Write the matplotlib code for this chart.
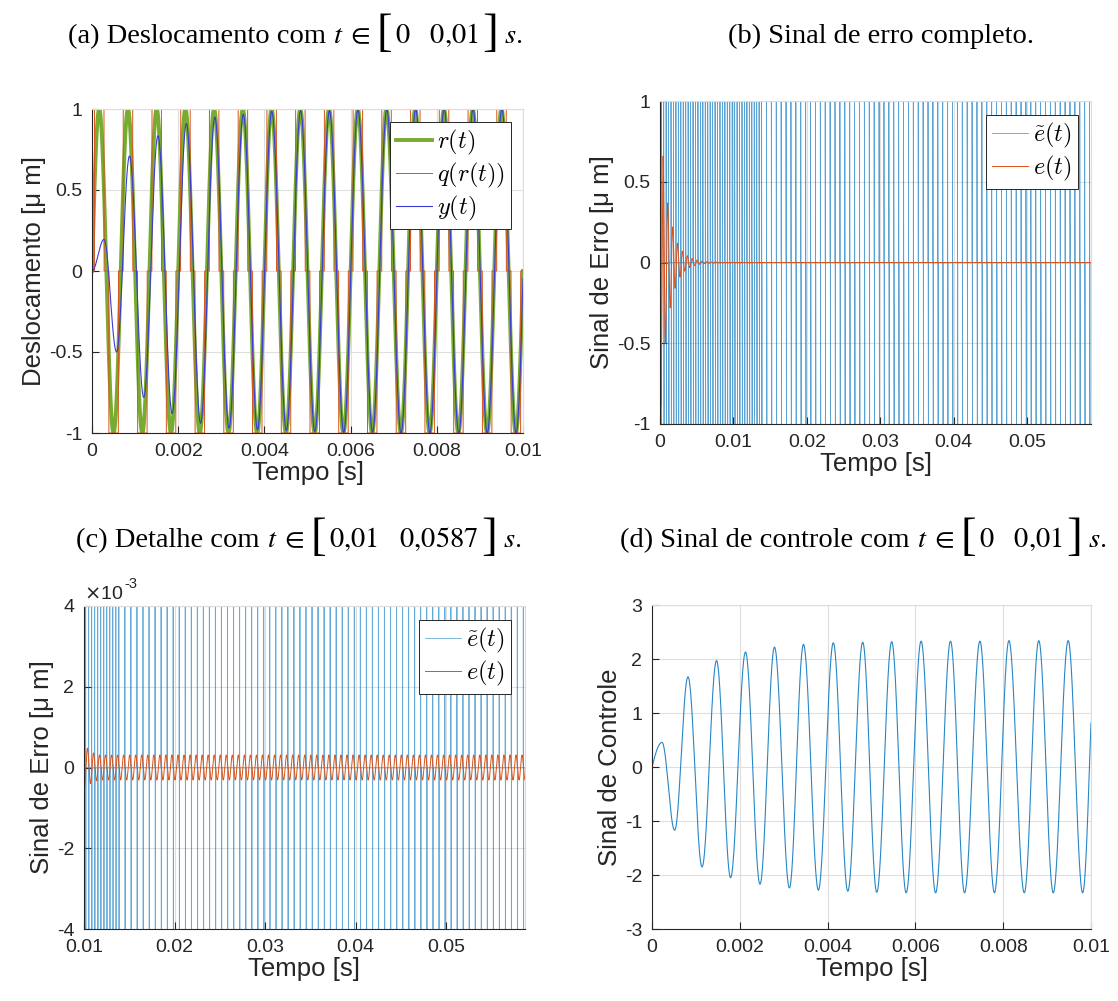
import numpy as np
import matplotlib
matplotlib.use("Agg")
import matplotlib.pyplot as plt
from matplotlib.ticker import FuncFormatter, FixedLocator
from matplotlib.font_manager import FontProperties

# ---------------- data ----------------
# reference r(t): alternating extrema of the sinusoidal reference [s], [um]
r_ext_t = [0.000167, 0.000500, 0.000833, 0.001167, 0.001500, 0.001833, 0.002167,
           0.002500, 0.002833, 0.003167, 0.003500, 0.003833, 0.004167, 0.004500,
           0.004833, 0.005167, 0.005500, 0.005833, 0.006167, 0.006500, 0.006833,
           0.007167, 0.007500, 0.007833, 0.008167, 0.008500, 0.008833, 0.009167,
           0.009500, 0.009833, 0.010167]
r_ext_v = [1, -1, 1, -1, 1, -1, 1, -1, 1, -1, 1, -1, 1, -1, 1, -1,
           1, -1, 1, -1, 1, -1, 1, -1, 1, -1, 1, -1, 1, -1, 1]

# quantiser output levels for q(r(t))
q_levels = [-1.0, 0.0, 1.0]

# plant output y(t): extrema of the response
y_ext_t = [0.00028, 0.00057, 0.00087, 0.00120, 0.00153, 0.00186, 0.00219, 0.00252,
           0.00285, 0.00318, 0.00351, 0.00384, 0.00417, 0.00451, 0.00484, 0.00517,
           0.00551, 0.00584, 0.00617, 0.00651, 0.00684, 0.00717, 0.00751, 0.00784,
           0.00817, 0.00851, 0.00884, 0.00917, 0.00951, 0.00984, 0.01017]
y_ext_v = [0.195, -0.50, 0.71, -0.78, 0.835, -0.88, 0.91, -0.94, 0.95, -0.97,
           0.967, -0.98, 0.985, -0.985, 0.99, -0.99, 0.99, -0.995, 0.995, -0.995,
           0.995, -1.0, 1.0, -1.0, 1.0, -1.0, 1.0, -1.0, 1.0, -1.0, 1.0]

# control signal u(t): extrema
u_ext_t = [0.000228, 0.000516, 0.00082, 0.00114, 0.00147, 0.00179, 0.00213, 0.00246,
           0.00279, 0.00313, 0.00345, 0.00379, 0.00413, 0.00446, 0.00480, 0.00512,
           0.00546, 0.00579, 0.00613, 0.00646, 0.00680, 0.00712, 0.00747, 0.00780,
           0.00813, 0.00848, 0.00881, 0.00914, 0.00948, 0.00981, 0.01012]
u_ext_v = [0.457, -1.17, 1.67, -1.85, 1.97, -2.05, 2.13, -2.17, 2.22, -2.24, 2.27,
           -2.28, 2.30, -2.30, 2.31, -2.32, 2.32, -2.33, 2.33, -2.33, 2.33, -2.33,
           2.33, -2.33, 2.34, -2.33, 2.34, -2.33, 2.34, -2.33, 2.34]

# tracking error e(t): transient extrema, then a steady ripple
e_tr_t = [0.00012, 0.00042, 0.00072, 0.00105, 0.00138, 0.00172, 0.00205, 0.00238,
          0.00272, 0.00305, 0.00338, 0.00372, 0.00405, 0.00438, 0.00472, 0.00505,
          0.00538, 0.00572, 0.00605, 0.00638, 0.00672, 0.00705, 0.00738, 0.00772,
          0.00805, 0.00838, 0.00872, 0.00905, 0.00938, 0.00972, 0.01005, 0.01038,
          0.01072, 0.01105, 0.01138]
e_tr_v = [-0.89, 0.66, -0.50, 0.37, -0.28, 0.22, -0.16, 0.12, -0.090, 0.070,
          -0.054, 0.042, -0.032, 0.025, -0.019, 0.015, -0.0115, 0.0090, -0.0070,
          0.0055, -0.0043, 0.0034, -0.0027, 0.0021, -0.0017, 0.0013, -0.0010,
          0.0008, -0.00065, 0.00055, -0.00050, 0.00048, -0.00040, 0.00036, -0.00033]
e_ss_amp = 3.1e-4            # steady ripple amplitude
e_half_period = 3.333e-4     # s

# quantised error ẽ(t): one +1/-1 pulse pair per event
ref_period = 6.667e-4        # s
pulse_phase_early = [0.25, 0.75]
pulse_phase_late = [0.75]
pulse_switch = 0.0137        # s, pulses become once-per-cycle after this
pulse_width = 5e-5           # s

t_short = 0.01
t_long = 0.0587

# ---------------- signal construction ----------------
def arcs(t, tk, vk, lead="cos"):
    """Smooth curve through alternating extrema (tk, vk), starting at (0, 0)."""
    tk = np.r_[0.0, tk]
    vk = np.r_[0.0, vk]
    i = np.clip(np.searchsorted(tk, t, side="right") - 1, 0, len(tk) - 2)
    s = np.clip((t - tk[i]) / (tk[i + 1] - tk[i]), 0.0, 1.0)
    out = 0.5 * (vk[i] + vk[i + 1]) + 0.5 * (vk[i] - vk[i + 1]) * np.cos(np.pi * s)
    if lead == "sine":
        m = i == 0
        out[m] = vk[1] * np.sin(0.5 * np.pi * s[m])
    return out

t_a = np.linspace(0, t_short, 20001)
r = arcs(t_a, r_ext_t, r_ext_v, lead="sine")
lv = np.asarray(q_levels)
q = lv[np.argmin(np.abs(r[:, None] - lv[None, :]), axis=1)]
y = arcs(t_a, y_ext_t, y_ext_v, lead="cos")
u = arcs(t_a, u_ext_t, u_ext_v, lead="sine")

# error: transient followed by the steady ripple
n_ss = int(np.ceil((t_long - e_tr_t[-1]) / e_half_period)) + 1
ss_t = e_tr_t[-1] + e_half_period * np.arange(1, n_ss + 1)
ss_v = e_ss_amp * np.where(np.arange(1, n_ss + 1) % 2 == 1, 1.0, -1.0) * -np.sign(e_tr_v[-1])
e_t_all = np.r_[e_tr_t, ss_t]
e_v_all = np.r_[e_tr_v, ss_v]
t_b = np.linspace(0, t_long, 120001)
e = arcs(t_b, e_t_all, e_v_all, lead="cos")

# pulse train of ẽ(t)
pulse_t = []
k = 0
while k * ref_period < t_long:
    phases = pulse_phase_early if k * ref_period < pulse_switch else pulse_phase_late
    for ph in phases:
        tp = (k + ph) * ref_period
        if tp < t_long:
            pulse_t.append(tp)
    k += 1
et_x = [0.0]
et_y = [0.0]
for tp in pulse_t:
    et_x += [tp, tp, tp + pulse_width, tp + pulse_width]
    et_y += [0.0, 1.0, -1.0, 0.0]
et_x.append(t_long)
et_y.append(0.0)

# ---------------- figure ----------------
plt.rcParams.update({
    "font.family": "Liberation Sans",
    "axes.unicode_minus": False,
    "mathtext.fontset": "dejavusans",
})
W, H = 1118, 1001
fig = plt.figure(figsize=(W / 100, H / 100), dpi=100)

def add_axes(l, t, rr, b):
    return fig.add_axes([l / W, 1 - b / H, (rr - l) / W, (b - t) / H])

ax_a = add_axes(92, 109, 523, 433)
ax_b = add_axes(660, 101, 1091, 424)
ax_c = add_axes(84, 606, 525, 929)
ax_d = add_axes(652, 605, 1091, 929)

DARK = "#262626"
BLUE = "#0072BD"
ORANGE = "#D95319"
GREEN = "#77AC30"
LABEL_SIZE = 18.5

def style(ax):
    for side in ("top", "right"):
        ax.spines[side].set_color("#dcdcdc")
        ax.spines[side].set_linewidth(0.8)
    for side in ("left", "bottom"):
        ax.spines[side].set_color(DARK)
        ax.spines[side].set_linewidth(0.8)
    ax.tick_params(direction="in", length=5, width=0.8, colors=DARK,
                   labelsize=14, top=False, right=False, pad=7)
    ax.grid(True, color="#dfdfdf", linewidth=0.8)
    ax.set_axisbelow(True)

fmt_g = FuncFormatter(lambda v, _: f"{v:g}")
leg_font = FontProperties(family="Liberation Serif", size=17.5, math_fontfamily="cm")

def legend(ax, dx, dy):
    w = ax.get_position().width * W
    h = ax.get_position().height * H
    lg = ax.legend(loc="upper right", bbox_to_anchor=(1 - dx / w, 1 - dy / h),
                   borderaxespad=0, prop=leg_font, fancybox=False, framealpha=1,
                   edgecolor=DARK, handlelength=1.5, handletextpad=0.2,
                   borderpad=0.25, labelspacing=0.15)
    lg.get_frame().set_linewidth(0.7)

# (a) displacement
ax = ax_a
style(ax)
ax.plot(t_a, r, color=GREEN, lw=2.8, label=r"$r(t)$")
ax.plot(t_a, q, color=ORANGE, lw=0.7, label=r"$q(r(t))$")
ax.plot(t_a, y, color="#3b3bd6", lw=0.8, label=r"$y(t)$")
ax.set_xlim(0, t_short)
ax.set_ylim(-1, 1)
ax.xaxis.set_major_locator(FixedLocator([0, 0.002, 0.004, 0.006, 0.008, 0.01]))
ax.yaxis.set_major_locator(FixedLocator([-1, -0.5, 0, 0.5, 1]))
ax.xaxis.set_major_formatter(fmt_g)
ax.yaxis.set_major_formatter(fmt_g)
ax.set_xlabel("Tempo [s]", fontsize=LABEL_SIZE, color=DARK, labelpad=1)
ax.set_ylabel("Deslocamento [μ m]", fontsize=LABEL_SIZE, color=DARK, labelpad=2)
legend(ax, 12, 13)

# (b) full error signal
ax = ax_b
style(ax)
ax.plot(et_x, et_y, color=BLUE, lw=0.6, alpha=0.65, label=r"$\tilde{e}(t)$")
ax.plot(t_b, e, color=ORANGE, lw=0.7, label=r"$e(t)$")
ax.set_xlim(0, t_long)
ax.set_ylim(-1, 1)
ax.xaxis.set_major_locator(FixedLocator([0, 0.01, 0.02, 0.03, 0.04, 0.05]))
ax.yaxis.set_major_locator(FixedLocator([-1, -0.5, 0, 0.5, 1]))
ax.xaxis.set_major_formatter(fmt_g)
ax.yaxis.set_major_formatter(fmt_g)
ax.set_xlabel("Tempo [s]", fontsize=LABEL_SIZE, color=DARK, labelpad=1)
ax.set_ylabel("Sinal de Erro [μ m]", fontsize=LABEL_SIZE, color=DARK, labelpad=2)
legend(ax, 13, 14)

# (c) error detail
ax = ax_c
style(ax)
ax.plot(et_x, et_y, color=BLUE, lw=0.6, alpha=0.6, label=r"$\tilde{e}(t)$")
ax.plot(t_b, e, color=ORANGE, lw=0.7, label=r"$e(t)$")
ax.set_xlim(t_short, t_long)
ax.set_ylim(-4e-3, 4e-3)
ax.xaxis.set_major_locator(FixedLocator([0.01, 0.02, 0.03, 0.04, 0.05]))
ax.yaxis.set_major_locator(FixedLocator([-4e-3, -2e-3, 0, 2e-3, 4e-3]))
ax.xaxis.set_major_formatter(fmt_g)
ax.yaxis.set_major_formatter(FuncFormatter(lambda v, _: f"{round(v * 1e3, 6):g}"))
ax.text(0.0, 1.008, r"$\times$10", transform=ax.transAxes, ha="left", va="bottom",
        fontsize=14, color=DARK)
ax.text(0.092, 1.045, "-3", transform=ax.transAxes, ha="left", va="bottom",
        fontsize=10.5, color=DARK)
ax.set_xlabel("Tempo [s]", fontsize=LABEL_SIZE, color=DARK, labelpad=1)
ax.set_ylabel("Sinal de Erro [μ m]", fontsize=LABEL_SIZE, color=DARK, labelpad=2)
legend(ax, 14, 14)

# (d) control signal
ax = ax_d
style(ax)
ax.plot(t_a, u, color=BLUE, lw=0.8, alpha=0.85)
ax.set_xlim(0, t_short)
ax.set_ylim(-3, 3)
ax.xaxis.set_major_locator(FixedLocator([0, 0.002, 0.004, 0.006, 0.008, 0.01]))
ax.yaxis.set_major_locator(FixedLocator([-3, -2, -1, 0, 1, 2, 3]))
ax.xaxis.set_major_formatter(fmt_g)
ax.yaxis.set_major_formatter(fmt_g)
ax.set_xlabel("Tempo [s]", fontsize=LABEL_SIZE, color=DARK, labelpad=1)
ax.set_ylabel("Sinal de Controle", fontsize=LABEL_SIZE, color=DARK, labelpad=2)

# ---------------- sub-captions ----------------
renderer = fig.canvas.get_renderer()
CAP = 20.5
BR = 34

def caption(xc, y_base, pieces):
    texts, adv = [], []
    for s, size, dy, gap in pieces:
        t = fig.text(0, (H - y_base - dy) / H, s, fontsize=size,
                     family="Liberation Serif", math_fontfamily="stix",
                     ha="left", va="baseline", color="black")
        texts.append(t)
        adv.append(t.get_window_extent(renderer).width + gap)
    total = sum(adv) - pieces[-1][3]
    x = xc - total / 2
    for t, a in zip(texts, adv):
        t.set_x(x / W)
        x += a

caption(295, 43, [("(a) Deslocamento com", CAP, 0, 7), (r"$t\;\in$", CAP, 0, 6),
                  ("[", BR, 3, 3), (r"$0\quad 0{,}01$", CAP, 0, 3),
                  ("]", BR, 3, 6), (r"$s.$", CAP, 0, 0)])
caption(881, 43, [("(b) Sinal de erro completo.", CAP, 0, 0)])
caption(299, 547, [("(c) Detalhe com", CAP, 0, 7), (r"$t\;\in$", CAP, 0, 6),
                   ("[", BR, 3, 3), (r"$0{,}01\quad 0{,}0587$", CAP, 0, 3),
                   ("]", BR, 3, 6), (r"$s.$", CAP, 0, 0)])
caption(863, 547, [("(d) Sinal de controle com", CAP, 0, 7), (r"$t\;\in$", CAP, 0, 6),
                   ("[", BR, 3, 3), (r"$0\quad 0{,}01$", CAP, 0, 3),
                   ("]", BR, 3, 6), (r"$s.$", CAP, 0, 0)])

fig.savefig("out.png", dpi=100, facecolor="white")
